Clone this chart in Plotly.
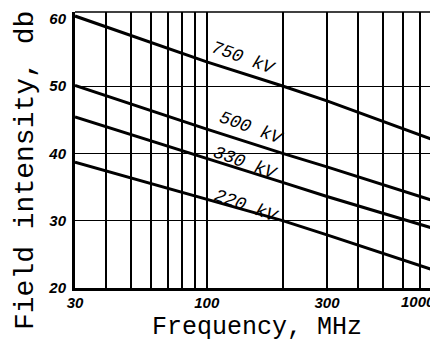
import plotly.graph_objects as go
import math

# ---- data ----
freq_mhz = [30, 100, 200, 300, 820]
series_names = ["750 kV", "500 kV", "330 kV", "220 kV"]
db_750 = [60.4, 53.6, 50.0, 47.8, 41.8]
db_500 = [50.1, 43.6, 40.0, 38.0, 32.8]
db_330 = [45.4, 39.3, 35.7, 33.6, 28.7]
db_220 = [38.7, 33.2, 30.0, 27.9, 22.5]

x_tick_vals = [30, 100, 300]
x_tick_text = ["30", "100", "300"]
x_extra_label = "1000"
x_grid_vals = [40, 50, 60, 70, 80, 90, 100, 200, 300, 400, 500, 600, 700, 800]
y_tick_vals = [20, 30, 40, 50, 60]
y_grid_vals = [30, 40, 50]

x_title = "Frequency, MHz"
y_title = "Field intensity, db"

# label centres in page pixels
label_px = [(243, 58), (251, 128), (245, 163), (246, 206)]

# page body has an 8px margin; figure drawn from (8, 8)
W, H = 430, 336
ML, MR, MT, MB = 67, 1, 4, 56
PW, PH = W - ML - MR, H - MT - MB
OFF = 8

def px_to_paper_x(px):
    return (px - OFF - ML) / PW

def py_to_paper_y(py):
    return (MT + PH - (py - OFF)) / PH

fig = go.Figure()
for name, vals in zip(series_names, [db_750, db_500, db_330, db_220]):
    fig.add_trace(go.Scatter(x=freq_mhz, y=vals, mode="lines", name=name,
                             line=dict(color="black", width=3), showlegend=False))

tick_font = dict(family="Liberation Sans", size=15, color="black", weight="bold", style="italic")

fig.update_xaxes(
    type="log",
    range=[math.log10(30), math.log10(820)],
    tickvals=x_tick_vals, ticktext=x_tick_text,
    showgrid=False, zeroline=False, automargin=False,
    ticks="", tickfont=tick_font, ticklabelstandoff=-1,
    showline=True, linecolor="black", linewidth=3,
    minor=dict(tickvals=x_grid_vals, showgrid=True, gridcolor="black", gridwidth=1.6, ticks=""),
)
fig.update_yaxes(
    range=[20, 61],
    tickvals=y_tick_vals,
    showgrid=False, zeroline=False, automargin=False,
    ticks="", tickfont=tick_font, ticklabelstandoff=3,
    showline=True, linecolor="black", linewidth=3,
    minor=dict(tickvals=y_grid_vals, showgrid=True, gridcolor="black", gridwidth=1.4, ticks=""),
)

annotations = []
for name, (px, py) in zip(series_names, label_px):
    annotations.append(dict(xref="paper", yref="paper", x=px_to_paper_x(px), y=py_to_paper_y(py),
                            xanchor="center", yanchor="middle", text=name, showarrow=False,
                            textangle=20, font=dict(family="Liberation Mono", size=18, color="black", style="italic")))
annotations.append(dict(xref="paper", yref="paper", x=px_to_paper_x(418), y=py_to_paper_y(301),
                        xanchor="center", yanchor="middle", text=x_extra_label, showarrow=False, font=tick_font))
annotations.append(dict(xref="paper", yref="paper", x=px_to_paper_x(257), y=py_to_paper_y(327),
                        xanchor="center", yanchor="middle",
                        text=x_title, showarrow=False,
                        font=dict(family="Liberation Mono", size=25, color="black")))
annotations.append(dict(xref="paper", yref="paper", x=px_to_paper_x(25), y=py_to_paper_y(171),
                        xanchor="center", yanchor="middle",
                        text=y_title, showarrow=False, textangle=-90,
                        font=dict(family="Liberation Mono", size=28, color="black")))

fig.update_layout(
    width=W, height=H,
    margin=dict(l=ML, r=MR, t=MT, b=MB),
    paper_bgcolor="white", plot_bgcolor="white",
    annotations=annotations,
    shapes=[dict(type="line", xref="paper", yref="paper", x0=0, x1=1, y0=1, y1=1,
                 line=dict(color="black", width=1.5))],
)

fig.write_html("out.html")
